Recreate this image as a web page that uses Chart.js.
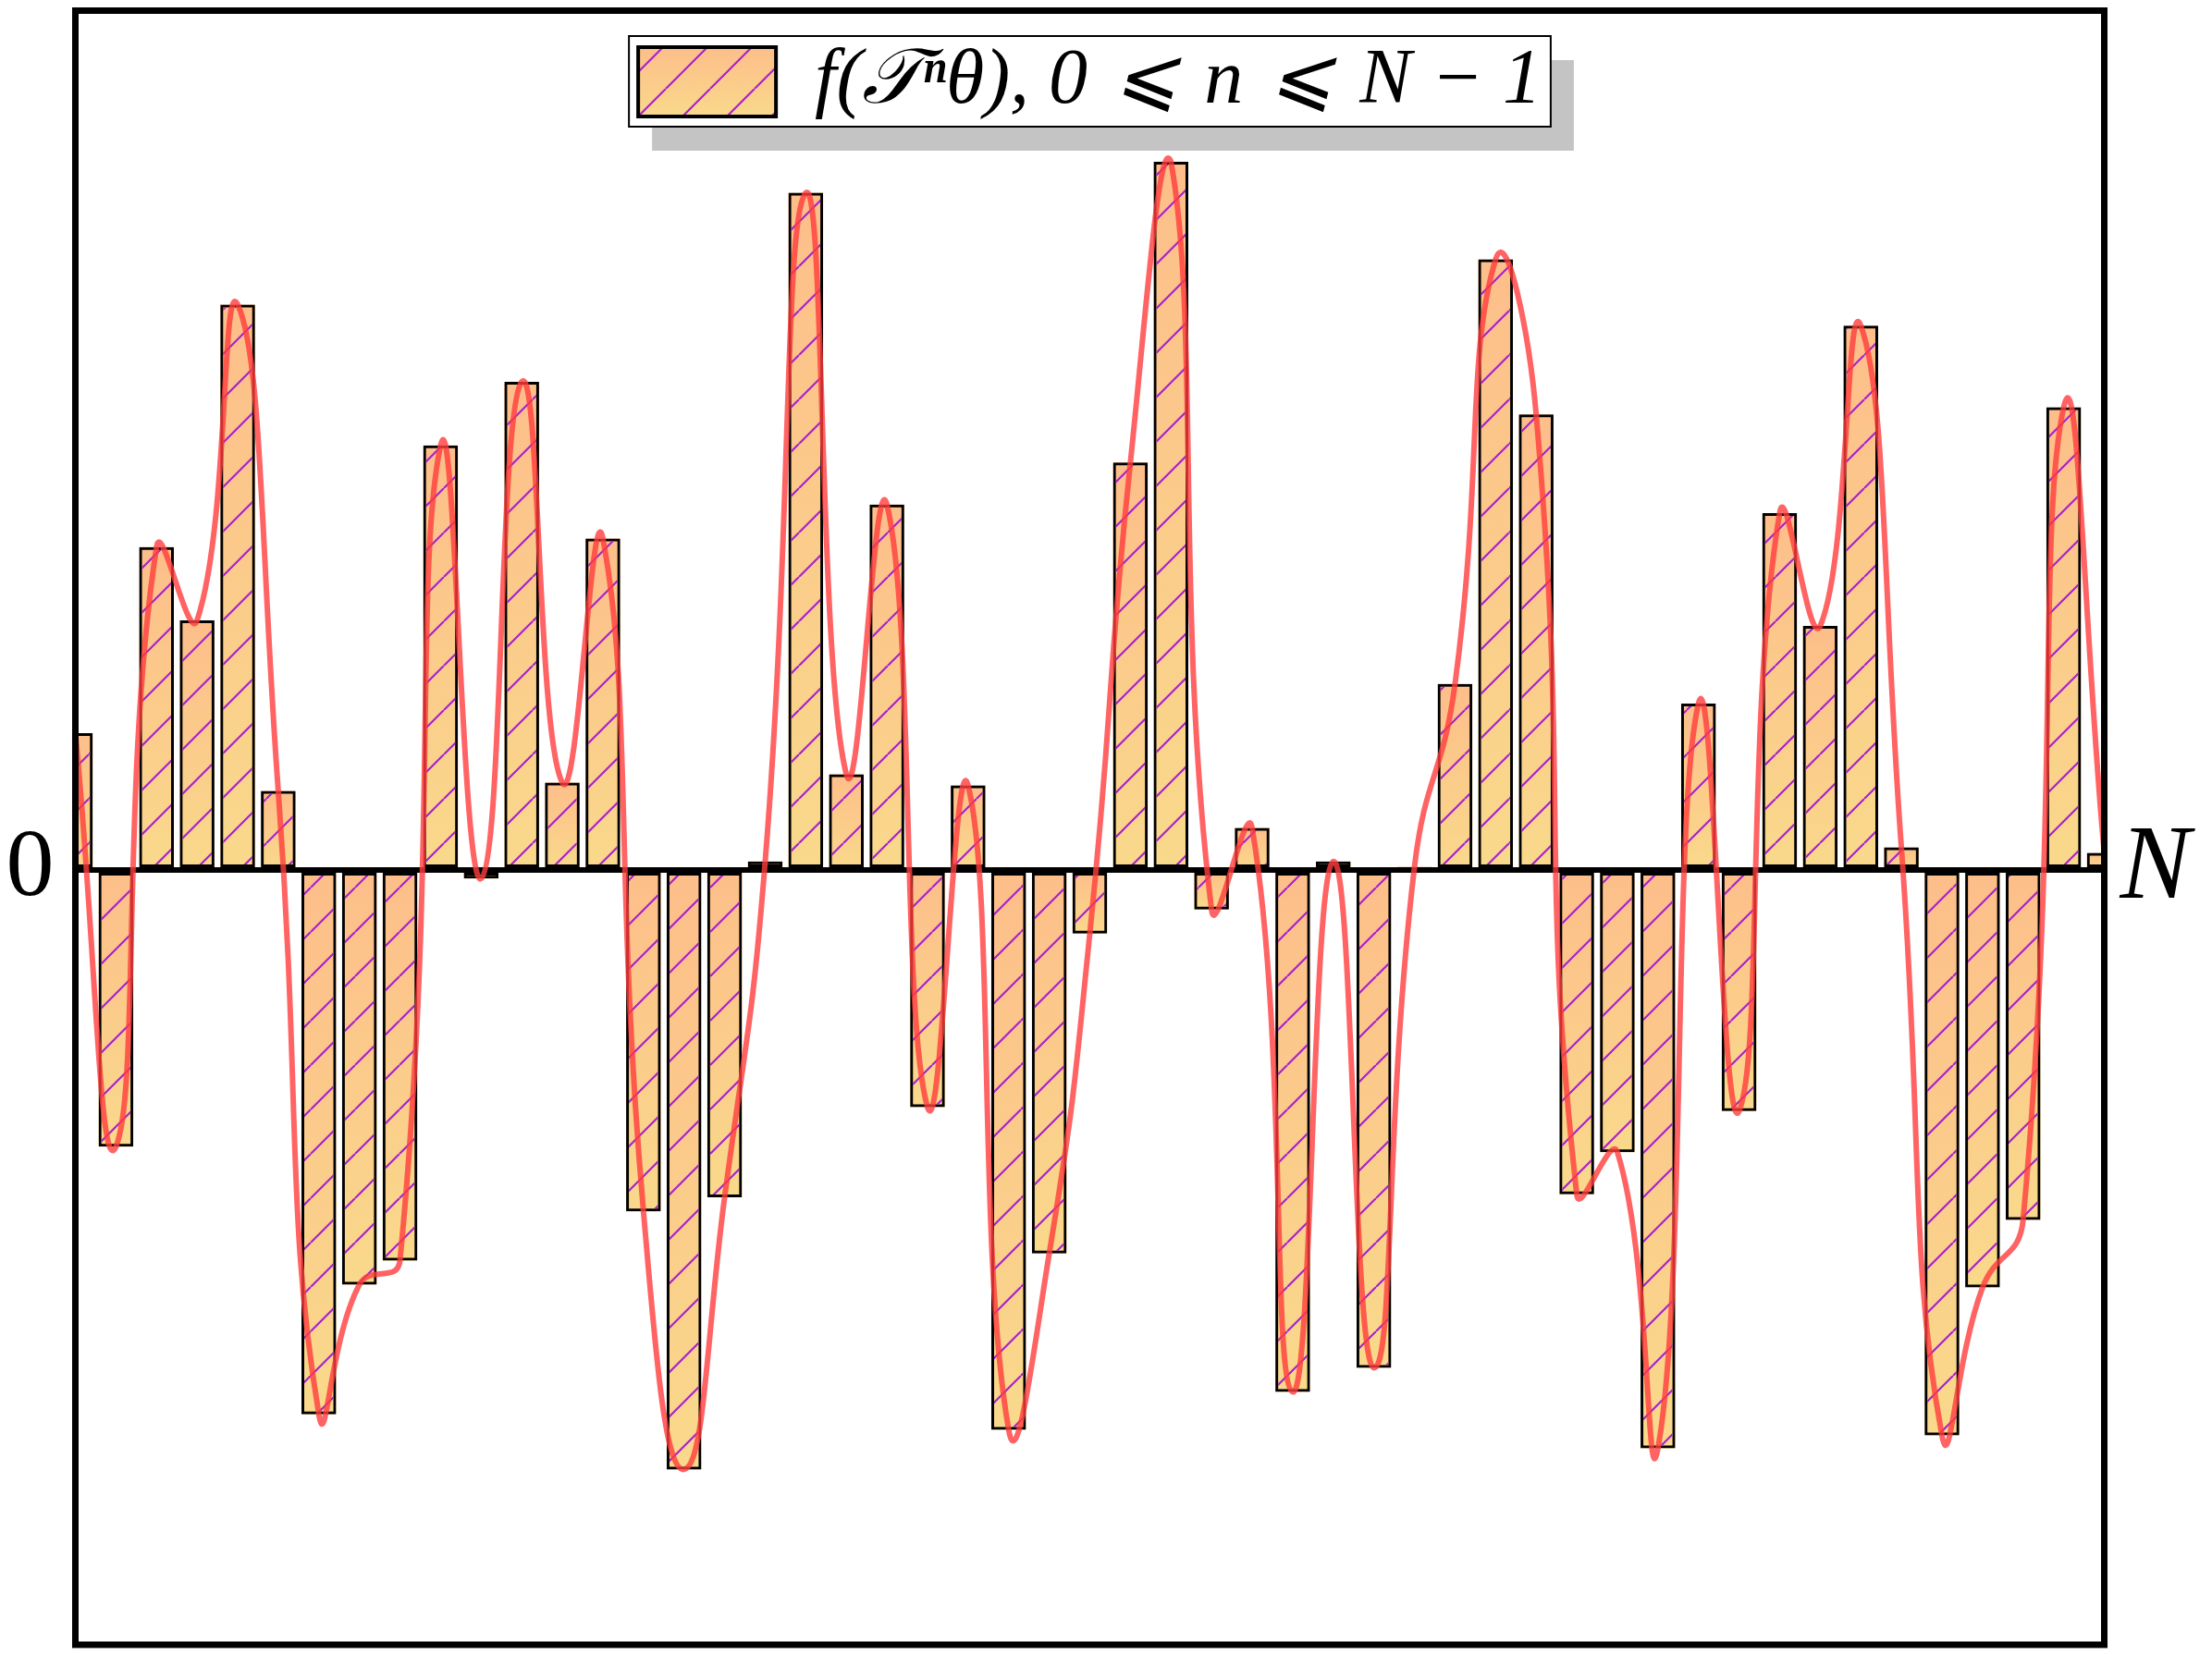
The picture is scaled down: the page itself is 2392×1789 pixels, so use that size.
<!DOCTYPE html>
<html><head><meta charset="utf-8">
<script src="https://cdn.jsdelivr.net/npm/chart.js@4.4.1/dist/chart.umd.min.js"></script>
<style>html,body{margin:0;padding:0;background:#fff;overflow:hidden;} canvas{display:block;}</style>
</head><body>
<canvas id="c" width="2392" height="1789"></canvas>
<script>
// ---- data ----
const categories = ['0','1','2','3','4','5','6','7','8','9','10','11','12','13','14','15','16','17','18','19','20','21','22','23','24','25','26','27','28','29','30','31','32','33','34','35','36','37','38','39','40','41','42','43','44','45','46','47','48','49','50'];
const values = [0.370, -0.748, 0.873, 0.675, 1.529, 0.214, -1.472, -1.121, -1.056, 1.148,
                -0.023, 1.320, 0.236, 0.896, -0.923, -1.621, -0.885, 0.023, 1.831, 0.259,
                0.988, -0.641, 0.229, -1.514, -1.037, -0.172, 1.102, 1.915, -0.107, 0.114,
                -1.411, 0.023, -1.346, 0.008, 0.503, 1.651, 1.232, -0.877, -0.763, -1.564,
                0.450, -0.652, 0.965, 0.660, 1.472, 0.061, -1.529, -1.129, -0.946, 1.251,
                0.046];
const leftTickLabels = ['0'];
const rightTickLabels = ['N'];
const legendLabel = 'f(\u{1D4AF}\u207F\u03B8), 0\u2004\u2A7D\u2004n\u2004\u2A7D\u2004N \u2212 1';
const yMin = -2.095;
const yMax = 2.00125;

// ---- styles ----
const topColor = '#fdbe8a';
const bottomColor = '#f9d98b';
const hatchColor = '#aa22cc';
const serif = "'Liberation Serif', 'DejaVu Serif', serif";

const canvas = document.getElementById('c');
const mainCtx = canvas.getContext('2d');
function makeHatch() {
  const s = 48;
  const t = document.createElement('canvas');
  t.width = s; t.height = s;
  const g = t.getContext('2d');
  g.strokeStyle = hatchColor;
  g.lineWidth = 2.2;
  g.beginPath();
  for (const k of [-1, 0, 1]) { g.moveTo(k * s, s); g.lineTo(k * s + s, 0); }
  g.stroke();
  return mainCtx.createPattern(t, 'repeat');
}
const hatch = makeHatch();

function barGradient(ctx) {
  const c = ctx.chart;
  if (!c.chartArea || !c.scales.y) return topColor;
  const v = ctx.raw;
  const ys = c.scales.y;
  const y1 = ys.getPixelForValue(Math.max(v, 0));
  const y2 = ys.getPixelForValue(Math.min(v, 0));
  if (y2 - y1 < 1) return topColor;
  const g = c.ctx.createLinearGradient(0, y1, 0, y2);
  g.addColorStop(0, topColor);
  g.addColorStop(1, bottomColor);
  return g;
}

function noPad(s, w) {
  s.width = w;
  s.paddingTop = 0;
  s.paddingBottom = 0;
}

const decor = {
  id: 'decor',
  beforeDraw(chart) {
    const hb = chart.legend.legendHitBoxes[0];
    if (!hb) return;
    const ctx = chart.ctx;
    const L = hb.left - 10, T = hb.top - 7.5, W = hb.width + 20, H = hb.height + 14;
    ctx.save();
    ctx.fillStyle = '#c4c4c4';
    ctx.fillRect(L + 25, T + 26, W, H);
    ctx.fillStyle = '#fff';
    ctx.fillRect(L, T, W, H);
    ctx.lineWidth = 2;
    ctx.strokeStyle = '#000';
    ctx.strokeRect(L, T, W, H);
    const lab = chart.options.plugins.legend.labels;
    const sy = hb.top + Math.max((lab.font.size - lab.boxHeight) / 2, 0);
    const g = ctx.createLinearGradient(0, sy, 0, sy + lab.boxHeight);
    g.addColorStop(0, topColor);
    g.addColorStop(1, bottomColor);
    ctx.fillStyle = g;
    ctx.fillRect(hb.left, sy, lab.boxWidth, lab.boxHeight);
    ctx.restore();
  },
  afterDraw(chart) {
    const a = chart.chartArea;
    const ctx = chart.ctx;
    ctx.save();
    ctx.lineWidth = 7;
    ctx.strokeStyle = '#000';
    ctx.strokeRect(a.left, 11.5, a.right - a.left, a.bottom - 11.5);
    ctx.restore();
  }
};

new Chart(canvas, {
  type: 'bar',
  data: {
    labels: categories,
    datasets: [
      {
        type: 'line',
        data: values,
        borderColor: 'rgba(255,60,60,0.8)',
        borderWidth: 6,
        pointRadius: 0,
        tension: 0.5,
        fill: false,
        order: 0
      },
      {
        data: values,
        backgroundColor: hatch,
        borderColor: '#000',
        borderWidth: 3,
        borderSkipped: false,
        grouped: false,
        categoryPercentage: 1,
        barPercentage: 0.855,
        clip: 0,
        order: 1
      },
      {
        data: values,
        backgroundColor: barGradient,
        borderWidth: 0,
        grouped: false,
        categoryPercentage: 1,
        barPercentage: 0.855,
        clip: 0,
        order: 2
      }
    ]
  },
  options: {
    responsive: false,
    animation: false,
    layout: { padding: { top: 36.5, right: 0, bottom: 10, left: 0 } },
    plugins: {
      tooltip: { enabled: false },
      legend: {
        position: 'top',
        align: 'center',
        fullSize: false,
        labels: {
          boxWidth: 149,
          boxHeight: 75,
          padding: 10,
          color: '#000',
          font: { family: serif, size: 84, style: 'italic' },
          generateLabels: () => [{
            text: legendLabel, fillStyle: hatch, strokeStyle: '#000',
            lineWidth: 4, hidden: false, datasetIndex: 1
          }]
        }
      }
    },
    scales: {
      x: {
        type: 'category',
        offset: false,
        display: false,
        grid: { display: false }
      },
      y: {
        position: 'left',
        min: yMin, max: yMax,
        afterBuildTicks: (s) => { s.ticks = [{ value: 0 }]; },
        afterFit: (s) => noPad(s, 81.5),
        border: { display: false },
        grid: { color: '#000', lineWidth: 6, drawTicks: false },
        ticks: {
          padding: 23,
          color: '#000',
          font: { family: serif, size: 104 },
          callback: (v, i) => leftTickLabels[i]
        }
      },
      y2: {
        position: 'right',
        min: yMin, max: yMax,
        afterBuildTicks: (s) => { s.ticks = [{ value: 0 }]; },
        afterFit: (s) => noPad(s, 116.5),
        border: { display: false },
        grid: { display: false, drawTicks: false },
        ticks: {
          padding: 17,
          color: '#000',
          font: { family: serif, size: 114, style: 'italic' },
          callback: (v, i) => rightTickLabels[i]
        }
      }
    }
  },
  plugins: [decor]
});
</script>
</body></html>
